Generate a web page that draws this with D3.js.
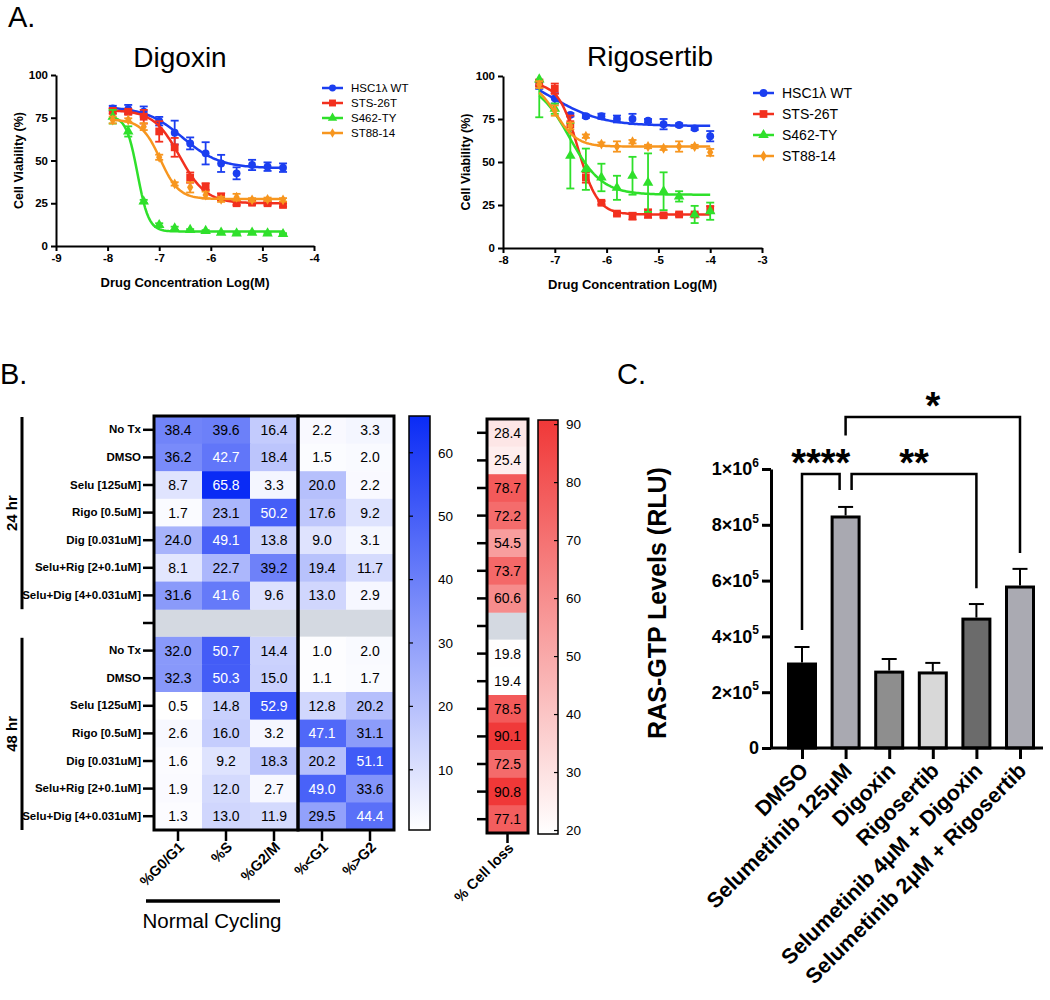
<!DOCTYPE html>
<html>
<head>
<meta charset="utf-8">
<script src="https://cdn.jsdelivr.net/npm/d3@7"></script>
<style>
  body { margin: 0; background: #fff; }
  svg { font-family: Arial, "Liberation Sans", Helvetica, sans-serif; }
</style>
</head>
<body>
<svg id="fig" width="1050" height="1000"></svg>
<script>
// ---------- Panel A data ----------
const seriesNames = ["HSC1λ WT", "STS-26T", "S462-TY", "ST88-14"];
const seriesColors = ["#1b3ef0", "#f2301e", "#2fe02b", "#f7961f"];
const seriesSymbols = [d3.symbolCircle, d3.symbolSquare, d3.symbolTriangle, d3.symbolDiamond];

const digoxinDose = [-7.9, -7.6, -7.3, -7.0, -6.7, -6.4, -6.1, -5.8, -5.5, -5.2, -4.9, -4.6];
const digHSC = [80.5, 80.0, 78.6, 73.0, 66.3, 60.0, 54.2, 48.3, 42.5, 47.4, 46.4, 45.8];
const digHSCErr = [1.5, 2.5, 3, 2.5, 7, 3.5, 6.5, 5, 3.5, 3, 2.5, 2.5];
const digSTS = [79, 78.5, 75.6, 67, 57.7, 40, 34.7, 28.8, 25, 25.3, 25, 24];
const digSTSErr = [1.5, 1.5, 4, 6, 5.5, 3, 2, 2, 1, 1, 1, 1];
const digS462 = [75.6, 67, 26, 12.3, 10.3, 9.4, 8.8, 7.8, 7.4, 7.8, 7.4, 7];
const digS462Err = [4, 3, 1, 1, 1, 0.5, 0.5, 0.5, 0.5, 0.5, 0.5, 0.5];
const digST88 = [73.7, 73.7, 69.8, 51.9, 36.3, 34.3, 29.8, 27.3, 28.5, 27, 27.3, 27];
const digST88Err = [2, 1, 2, 1.5, 1, 3, 2, 1.5, 2, 1, 1, 1];
// fitted 4-parameter curves
const digFitTop = [81.5, 79.5, 76, 74];
const digFitBottom = [45.5, 25, 8.5, 27.5];
const digFitLogEC50 = [-6.55, -6.6, -7.42, -6.98];
const digFitHill = [1.2, 1.7, 4, 2.4];
const digXTicks = [-9, -8, -7, -6, -5, -4];

const rigosertibDose = [-7.3, -7.0, -6.7, -6.4, -6.1, -5.8, -5.5, -5.2, -4.9, -4.6, -4.3, -4.0];
const rigHSC = [94.5, 87, 77.4, 76.6, 76.6, 75, 75, 74, 72, 71.5, 69.6, 65];
const rigHSCErr = [2, 3, 1, 1, 1.5, 2, 3, 1, 3, 1, 1, 3];
const rigSTS = [96, 92.6, 72, 41, 26.3, 20, 18.5, 20, 19, 19.5, 19.5, 22.4];
const rigSTSErr = [2, 3, 5, 3, 1, 1, 2, 2.5, 1, 1, 1, 2];
const rigS462 = [98, 81, 53.6, 45.8, 41, 35, 42, 38, 33, 30, 19.5, 21.4];
const rigS462Err = [22, 3, 19, 12, 8, 7, 11, 17, 11, 3, 5, 5];
const rigST88 = [95, 79.9, 71, 65, 60.4, 59, 61.8, 59, 58, 59, 59, 55.6];
const rigST88Err = [2, 3, 2, 1, 1, 3, 1, 1, 1, 3, 1, 2];
const rigFitTop = [104, 96, 97, 97];
const rigFitBottom = [71, 19.5, 31, 59];
const rigFitLogEC50 = [-7.05, -6.55, -6.71, -6.98];
const rigFitHill = [0.9, 2.3, 1.4, 2.1];
const rigXTicks = [-8, -7, -6, -5, -4, -3];

const viabilityTicks = [0, 25, 50, 75, 100];

// ---------- Panel B data ----------
const cycleCols = ["%G0/G1", "%S", "%G2/M", "%<G1", "%>G2"];
const treatments = ["No Tx", "DMSO", "Selu [125uM]", "Rigo [0.5uM]", "Dig [0.031uM]",
                    "Selu+Rig [2+0.1uM]", "Selu+Dig [4+0.031uM]"];
const cycle24 = [
  [38.4, 39.6, 16.4, 2.2, 3.3],
  [36.2, 42.7, 18.4, 1.5, 2.0],
  [8.7, 65.8, 3.3, 20.0, 2.2],
  [1.7, 23.1, 50.2, 17.6, 9.2],
  [24.0, 49.1, 13.8, 9.0, 3.1],
  [8.1, 22.7, 39.2, 19.4, 11.7],
  [31.6, 41.6, 9.6, 13.0, 2.9]
];
const cycle48 = [
  [32.0, 50.7, 14.4, 1.0, 2.0],
  [32.3, 50.3, 15.0, 1.1, 1.7],
  [0.5, 14.8, 52.9, 12.8, 20.2],
  [2.6, 16.0, 3.2, 47.1, 31.1],
  [1.6, 9.2, 18.3, 20.2, 51.1],
  [1.9, 12.0, 2.7, 49.0, 33.6],
  [1.3, 13.0, 11.9, 29.5, 44.4]
];
const cellLoss24 = [28.4, 25.4, 78.7, 72.2, 54.5, 73.7, 60.6];
const cellLoss48 = [19.8, 19.4, 78.5, 90.1, 72.5, 90.8, 77.1];
const blueTicks = [10, 20, 30, 40, 50, 60];
const redTicks = [20, 30, 40, 50, 60, 70, 80, 90];

// ---------- Panel C data ----------
const barLabels = ["DMSO", "Selumetinib 125μM", "Digoxin", "Rigosertib",
                   "Selumetinib 4μM + Digoxin", "Selumetinib 2μM + Rigosertib"];
const barValues = [301000, 828000, 272000, 269000, 462000, 577000];
const barErr = [61000, 36000, 47000, 36000, 54000, 65000];
const barColors = ["#000000", "#a9a9b1", "#8e8e8e", "#d8d8d8", "#6b6b6b", "#aaaab2"];
const rasTicks = [0, 200000, 400000, 600000, 800000, 1000000];

const svg = d3.select('#fig');

// panel letters
svg.append('text').attr('x', 8).attr('y', 27).attr('font-size', 29).text('A.');
svg.append('text').attr('x', 0).attr('y', 384).attr('font-size', 29).text('B.');
svg.append('text').attr('x', 617).attr('y', 384).attr('font-size', 29).text('C.');

function styleAxis(g, w, fs) {
  g.select('.domain').attr('stroke', '#000').attr('stroke-width', w);
  g.selectAll('.tick line').attr('stroke', '#000').attr('stroke-width', w);
  g.selectAll('.tick text').attr('fill', '#000').attr('font-size', fs).attr('font-weight', 'bold');
}

// ---------- dose response charts ----------
function drawDose(o) {
  const g = svg.append('g');
  const x = d3.scaleLinear().domain(o.xDomain).range(o.xRange);
  const y = d3.scaleLinear().domain([0, 100]).range(o.yRange);

  g.append('g')
    .attr('transform', 'translate(0,' + o.yRange[0] + ')')
    .call(d3.axisBottom(x).tickValues(o.xTicks).tickSize(5).tickSizeOuter(0)
      .tickFormat(d => String(d)))
    .call(a => styleAxis(a, 2, 11.5));
  g.append('g')
    .attr('transform', 'translate(' + o.xRange[0] + ',0)')
    .call(d3.axisLeft(y).tickValues(viabilityTicks).tickSize(5).tickSizeOuter(0))
    .call(a => styleAxis(a, 2, 11.5));

  g.append('text').attr('x', (o.xRange[0] + o.xRange[1]) / 2).attr('y', o.yRange[0] + 41)
    .attr('text-anchor', 'middle').attr('font-size', 13).attr('font-weight', 'bold')
    .text('Drug Concentration Log(M)');
  g.append('text')
    .attr('transform', 'translate(' + (o.xRange[0] - 33) + ',' + ((o.yRange[0] + o.yRange[1]) / 2) + ') rotate(-90)')
    .attr('text-anchor', 'middle').attr('font-size', 12.5).attr('font-weight', 'bold')
    .text('Cell Viability (%)');
  g.append('text').attr('x', o.titleX).attr('y', o.titleY).attr('text-anchor', 'middle')
    .attr('font-size', 28).text(o.title);

  const symSizes = [48, 60, 48, 34];
  o.means.forEach((m, s) => {
    const c = seriesColors[s];
    const dose = o.dose;
    // fitted curve
    const d0 = dose[0], d1 = dose[dose.length - 1];
    const xs = d3.range(0, 101).map(i => d0 + (d1 - d0) * i / 100);
    const fit = v => o.bottom[s] + (o.top[s] - o.bottom[s]) / (1 + Math.pow(10, (v - o.ec50[s]) * o.hill[s]));
    g.append('path')
      .attr('d', d3.line().x(v => x(v)).y(v => y(fit(v)))(xs))
      .attr('fill', 'none').attr('stroke', c).attr('stroke-width', 2.5);
    // error bars
    const eb = g.append('g').attr('stroke', c).attr('stroke-width', 1.8);
    m.forEach((v, i) => {
      const e = o.errs[s][i];
      const top = Math.min(100, v + e), bot = v - e;
      const cx = x(dose[i]);
      eb.append('line').attr('x1', cx).attr('x2', cx).attr('y1', y(bot)).attr('y2', y(top));
      eb.append('line').attr('x1', cx - 4).attr('x2', cx + 4).attr('y1', y(bot)).attr('y2', y(bot));
      if (top < 100) eb.append('line').attr('x1', cx - 4).attr('x2', cx + 4).attr('y1', y(top)).attr('y2', y(top));
    });
    // markers
    g.selectAll(null).data(m).enter().append('path')
      .attr('d', d3.symbol().type(seriesSymbols[s]).size(symSizes[s]))
      .attr('transform', (v, i) => 'translate(' + x(dose[i]) + ',' + y(v) + ')')
      .attr('fill', c);
    // legend
    const ly = o.legendY + s * o.legendStep;
    g.append('line').attr('x1', o.legendX).attr('x2', o.legendX + o.legendLen)
      .attr('y1', ly).attr('y2', ly).attr('stroke', c).attr('stroke-width', 2.5);
    g.append('path').attr('d', d3.symbol().type(seriesSymbols[s]).size(symSizes[s] * o.legendScale))
      .attr('transform', 'translate(' + (o.legendX + o.legendLen / 2) + ',' + ly + ')').attr('fill', c);
    g.append('text').attr('x', o.legendX + o.legendLen + 8).attr('y', ly).attr('dy', '0.36em')
      .attr('font-size', o.legendFont).text(seriesNames[s]);
  });
}

drawDose({
  title: 'Digoxin', titleX: 180, titleY: 67,
  xDomain: [-9, -4], xRange: [56, 314], yRange: [246, 75], xTicks: digXTicks,
  dose: digoxinDose,
  means: [digHSC, digSTS, digS462, digST88],
  errs: [digHSCErr, digSTSErr, digS462Err, digST88Err],
  top: digFitTop, bottom: digFitBottom, ec50: digFitLogEC50, hill: digFitHill,
  legendX: 322, legendY: 88, legendStep: 15, legendLen: 21, legendFont: 11.5, legendScale: 0.8
});
drawDose({
  title: 'Rigosertib', titleX: 650, titleY: 66,
  xDomain: [-8, -3], xRange: [503, 762], yRange: [248, 76], xTicks: rigXTicks,
  dose: rigosertibDose,
  means: [rigHSC, rigSTS, rigS462, rigST88],
  errs: [rigHSCErr, rigSTSErr, rigS462Err, rigST88Err],
  top: rigFitTop, bottom: rigFitBottom, ec50: rigFitLogEC50, hill: rigFitHill,
  legendX: 753, legendY: 93, legendStep: 21, legendLen: 21, legendFont: 14, legendScale: 1
});

// ---------- Panel B: heat map ----------
const nRows = treatments.length * 2 + 1;
const rowIdx = d3.range(nRows);
const hx = d3.scaleBand().domain(cycleCols).range([154, 394]);
const hy = d3.scaleBand().domain(rowIdx).range([416, 830]);
const hyLoss = d3.scaleBand().domain(rowIdx).range([419, 833]);
const blueScale = d3.scaleLinear().domain([0.5, 65.8]).range(['#ffffff', '#0a2bf5']).interpolate(d3.interpolateRgb);
const redScale = d3.scaleLinear().domain([19.4, 90.8]).range(['#ffffff', '#f03838']).interpolate(d3.interpolateRgb);
const gapColor = '#d4d9e1';

const heatCells = [];
cycle24.forEach((r, i) => r.forEach((v, j) => heatCells.push({ row: i, col: cycleCols[j], v })));
cycle48.forEach((r, i) => r.forEach((v, j) => heatCells.push({ row: i + treatments.length + 1, col: cycleCols[j], v })));
const lossCells = cellLoss24.map((v, i) => ({ row: i, v }))
  .concat(cellLoss48.map((v, i) => ({ row: i + treatments.length + 1, v })));
const gapRow = treatments.length;
const rowLabels = treatments.concat([''], treatments);

const hb = svg.append('g');
hb.append('rect').attr('x', hx.range()[0]).attr('y', hy(gapRow))
  .attr('width', hx.range()[1] - hx.range()[0]).attr('height', hy.bandwidth()).attr('fill', gapColor);
hb.selectAll('rect.cell').data(heatCells).enter().append('rect').attr('class', 'cell')
  .attr('x', d => hx(d.col)).attr('y', d => hy(d.row))
  .attr('width', hx.bandwidth() + 0.5).attr('height', hy.bandwidth() + 0.5)
  .attr('fill', d => blueScale(d.v));
hb.selectAll('text.cell').data(heatCells).enter().append('text').attr('class', 'cell')
  .attr('x', d => hx(d.col) + hx.bandwidth() / 2).attr('y', d => hy(d.row) + hy.bandwidth() / 2)
  .attr('dy', '0.36em').attr('text-anchor', 'middle').attr('font-size', 14)
  .attr('fill', d => d.v > 40 ? '#fff' : '#000').text(d => d.v.toFixed(1));

// borders (two blocks)
const splitX = hx(cycleCols[3]);
[[hx.range()[0], splitX], [splitX, hx.range()[1]]].forEach(b => {
  hb.append('rect').attr('x', b[0]).attr('y', hy.range()[0]).attr('width', b[1] - b[0])
    .attr('height', hy.range()[1] - hy.range()[0]).attr('fill', 'none')
    .attr('stroke', '#000').attr('stroke-width', 3);
});
// row axis
hb.append('g').attr('transform', 'translate(' + (hx.range()[0] - 1) + ',0)')
  .call(d3.axisLeft(hy).tickSize(10).tickFormat(i => rowLabels[i]))
  .call(a => {
    a.select('.domain').remove();
    a.selectAll('.tick line').attr('stroke', '#000').attr('stroke-width', 2.5);
    a.selectAll('.tick text').attr('fill', '#000').attr('font-size', 11.5).attr('font-weight', 'bold').attr('x', -12);
  });
// column axis
hb.append('g').attr('transform', 'translate(0,' + (hy.range()[1] + 1) + ')')
  .call(d3.axisBottom(hx).tickSize(10))
  .call(a => {
    a.select('.domain').remove();
    a.selectAll('.tick line').attr('stroke', '#000').attr('stroke-width', 2.5);
    a.selectAll('.tick text').attr('fill', '#000').attr('font-size', 14.5).attr('font-weight', 'bold')
      .attr('text-anchor', 'end').attr('dy', 0).attr('y', 0)
      .attr('transform', 'translate(7,17) rotate(-45)');
  });

// time brackets
[[0, treatments.length - 1, '24 hr'], [treatments.length + 1, nRows - 1, '48 hr']].forEach(t => {
  const y0 = hy(t[0]) + 1, y1 = hy(t[1]) + hy.bandwidth();
  hb.append('line').attr('x1', 22).attr('x2', 22).attr('y1', y0).attr('y2', y1)
    .attr('stroke', '#000').attr('stroke-width', 3);
  hb.append('text').attr('transform', 'translate(17,' + ((y0 + y1) / 2) + ') rotate(-90)')
    .attr('text-anchor', 'middle').attr('font-size', 15).attr('font-weight', 'bold').text(t[2]);
});

// normal cycling bar
hb.append('line').attr('x1', 146).attr('x2', 280).attr('y1', 901).attr('y2', 901)
  .attr('stroke', '#000').attr('stroke-width', 3.5);
hb.append('text').attr('x', 212).attr('y', 928).attr('text-anchor', 'middle')
  .attr('font-size', 20.5).text('Normal Cycling');

// gradient colour bars
const defs = svg.append('defs');
function gradient(id, scale) {
  const gr = defs.append('linearGradient').attr('id', id)
    .attr('x1', 0).attr('y1', 1).attr('x2', 0).attr('y2', 0);
  const dom = scale.domain();
  d3.range(0, 11).forEach(i => {
    gr.append('stop').attr('offset', i / 10)
      .attr('stop-color', scale(dom[0] + (dom[1] - dom[0]) * i / 10));
  });
}
gradient('gBlue', blueScale);
gradient('gRed', redScale);

function colorBar(x0, w, scale, ticks, grad, tickSide) {
  const yb = d3.scaleLinear().domain(scale.domain()).range(scale === blueScale ? [830, 416] : [834, 420]);
  const cg = svg.append('g');
  cg.append('rect').attr('x', x0).attr('y', yb.range()[1]).attr('width', w)
    .attr('height', yb.range()[0] - yb.range()[1]).attr('fill', 'url(#' + grad + ')')
    .attr('stroke', '#000').attr('stroke-width', 1.5);
  ticks.forEach(t => {
    const tx = tickSide === 'left' ? x0 : x0 + w - 4;
    cg.append('line').attr('x1', tx).attr('x2', tx + 4).attr('y1', yb(t)).attr('y2', yb(t))
      .attr('stroke', '#000').attr('stroke-width', 1.2);
    cg.append('text').attr('x', x0 + w + 8).attr('y', yb(t)).attr('dy', '0.36em')
      .attr('font-size', 13.5).text(t);
  });
}
colorBar(409, 21, blueScale, blueTicks, 'gBlue', 'left');

// cell-loss column
const lx0 = 487, lx1 = 528;
const lg = svg.append('g');
lg.append('rect').attr('x', lx0).attr('y', hyLoss(gapRow)).attr('width', lx1 - lx0)
  .attr('height', hyLoss.bandwidth()).attr('fill', gapColor);
lg.selectAll('rect.loss').data(lossCells).enter().append('rect').attr('class', 'loss')
  .attr('x', lx0).attr('y', d => hyLoss(d.row)).attr('width', lx1 - lx0)
  .attr('height', hyLoss.bandwidth() + 0.5).attr('fill', d => redScale(d.v));
lg.selectAll('text.loss').data(lossCells).enter().append('text').attr('class', 'loss')
  .attr('x', (lx0 + lx1) / 2).attr('y', d => hyLoss(d.row) + hyLoss.bandwidth() / 2)
  .attr('dy', '0.36em').attr('text-anchor', 'middle').attr('font-size', 14).text(d => d.v.toFixed(1));
lg.append('rect').attr('x', lx0).attr('y', hyLoss.range()[0]).attr('width', lx1 - lx0)
  .attr('height', hyLoss.range()[1] - hyLoss.range()[0]).attr('fill', 'none')
  .attr('stroke', '#000').attr('stroke-width', 3);
lg.append('g').attr('transform', 'translate(' + (lx0 - 1) + ',0)')
  .call(d3.axisLeft(hyLoss).tickSize(9).tickFormat(''))
  .call(a => {
    a.select('.domain').remove();
    a.selectAll('.tick line').attr('stroke', '#000').attr('stroke-width', 2.5);
  });
lg.append('line').attr('x1', (lx0 + lx1) / 2).attr('x2', (lx0 + lx1) / 2)
  .attr('y1', hyLoss.range()[1]).attr('y2', hyLoss.range()[1] + 10)
  .attr('stroke', '#000').attr('stroke-width', 2.5);
lg.append('text').attr('transform', 'translate(' + ((lx0 + lx1) / 2 + 7) + ',' + (hyLoss.range()[1] + 16) + ') rotate(-45)')
  .attr('text-anchor', 'end').attr('font-size', 14.5).attr('font-weight', 'bold').text('% Cell loss');

colorBar(538, 20, redScale, redTicks, 'gRed', 'right');

// ---------- Panel C: bar chart ----------
const cg = svg.append('g');
const bx = d3.scalePoint().domain(barLabels).range([802, 1020]);
const by = d3.scaleLinear().domain([0, 1000000]).range([748, 469]);
const barW = 27;
const axisRight = 1043;

cg.selectAll('rect.bar').data(barValues).enter().append('rect').attr('class', 'bar')
  .attr('x', (v, i) => bx(barLabels[i]) - barW / 2).attr('y', v => by(v))
  .attr('width', barW).attr('height', v => by(0) - by(v))
  .attr('fill', (v, i) => barColors[i]).attr('stroke', '#000').attr('stroke-width', 3);
// error bars (upper only)
barValues.forEach((v, i) => {
  const cx = bx(barLabels[i]);
  cg.append('line').attr('x1', cx).attr('x2', cx).attr('y1', by(v) - 1.5).attr('y2', by(v + barErr[i]))
    .attr('stroke', '#000').attr('stroke-width', 2);
  cg.append('line').attr('x1', cx - 7.5).attr('x2', cx + 7.5).attr('y1', by(v + barErr[i])).attr('y2', by(v + barErr[i]))
    .attr('stroke', '#000').attr('stroke-width', 2);
});

// y axis
cg.append('g').attr('transform', 'translate(771,0)')
  .call(d3.axisLeft(by).tickValues(rasTicks).tickSize(9).tickSizeOuter(0).tickFormat(''))
  .call(a => {
    a.select('.domain').attr('stroke', '#000').attr('stroke-width', 3);
    a.selectAll('.tick line').attr('stroke', '#000').attr('stroke-width', 3);
  });
rasTicks.forEach(t => {
  const txt = cg.append('text').attr('x', 759).attr('y', by(t)).attr('dy', '0.36em')
    .attr('text-anchor', 'end').attr('font-size', 18).attr('font-weight', 'bold');
  if (t === 0) { txt.text('0'); return; }
  const exp = Math.floor(Math.log10(t));
  const mant = Math.round(t / Math.pow(10, exp));
  txt.append('tspan').text(mant + '×10');
  txt.append('tspan').attr('font-size', 12).attr('dy', '-0.7em').text(exp);
});
// x axis line + ticks
cg.append('line').attr('x1', 771).attr('x2', axisRight).attr('y1', by(0)).attr('y2', by(0))
  .attr('stroke', '#000').attr('stroke-width', 3);
cg.append('g').attr('transform', 'translate(0,' + by(0) + ')')
  .call(d3.axisBottom(bx).tickSize(11))
  .call(a => {
    a.select('.domain').remove();
    a.selectAll('.tick line').attr('stroke', '#000').attr('stroke-width', 3);
    a.selectAll('.tick text').attr('fill', '#000').attr('font-size', 21.5).attr('font-weight', 'bold')
      .attr('text-anchor', 'end').attr('dy', 0).attr('y', 0)
      .attr('transform', 'translate(7,24) rotate(-45)');
  });
cg.append('text').attr('transform', 'translate(666,603) rotate(-90)')
  .attr('text-anchor', 'middle').attr('font-size', 25).attr('font-weight', 'bold')
  .text('RAS-GTP Levels (RLU)');

// significance brackets
const sigBrackets = [
  { x1: bx(barLabels[0]), x2: bx(barLabels[1]) - 6, top: 982000, l: 423000, r: 925000, label: '****' },
  { x1: bx(barLabels[1]) + 6, x2: bx(barLabels[4]), top: 982000, l: 925000, r: 573000, label: '**' },
  { x1: bx(barLabels[1]), x2: bx(barLabels[5]), top: 1186000, l: 1120000, r: 699000, label: '*' }
];
sigBrackets.forEach(b => {
  cg.append('path')
    .attr('d', 'M' + b.x1 + ',' + by(b.l) + 'V' + by(b.top) + 'H' + b.x2 + 'V' + by(b.r))
    .attr('fill', 'none').attr('stroke', '#000').attr('stroke-width', 2.5);
  cg.append('text').attr('x', (b.x1 + b.x2) / 2).attr('y', by(b.top) + 2)
    .attr('text-anchor', 'middle').attr('font-size', 38).attr('font-weight', 'bold').text(b.label);
});
</script>
</body>
</html>
